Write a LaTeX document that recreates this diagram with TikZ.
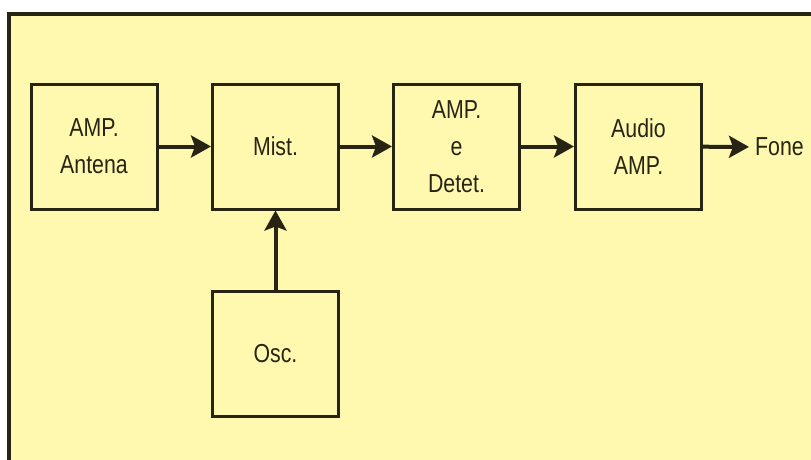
\documentclass[tikz,border=0pt]{standalone}
\usepackage{fontspec}
\setmainfont[FakeStretch=0.82]{Liberation Sans}
\usetikzlibrary{arrows.meta}
\definecolor{panel}{RGB}{255,249,176}
\definecolor{ink}{RGB}{40,36,20}
\begin{document}
\begin{tikzpicture}[x=1pt, y=-1pt, font=\fontsize{26}{37}\selectfont,
  blk/.style={draw=ink, line width=3pt, minimum width=126pt, minimum height=125pt, align=center, text=ink},
  sig/.style={-{Stealth[length=20pt,width=22pt,inset=4pt]}, draw=ink, line width=4pt}]
\useasboundingbox (0,0) rectangle (811,460);
\fill[panel] (9,14) rectangle (811,460);
\draw[ink, line width=3.5pt] (9,460) -- (9,14) -- (811,14);
\node[blk] (ant) at (94,146.5) {AMP.\\Antena};
\node[blk] (mix) at (275.5,146.5) {Mist.};
\node[blk] (det) at (456.5,146.5) {AMP.\\e\\Detet.};
\node[blk] (aud) at (638.5,146.5) {Audio\\AMP.};
\node[blk] (osc) at (275.5,354) {Osc.};
\node[anchor=west, text=ink, inner sep=0pt, inner xsep=6pt] (fone) at (749,147) {Fone};
\draw[sig] (ant) -- (mix);
\draw[sig] (mix) -- (det);
\draw[sig] (det) -- (aud);
\draw[sig] (aud) -- (fone);
\draw[sig] (osc) -- (mix);
\end{tikzpicture}
\end{document}
